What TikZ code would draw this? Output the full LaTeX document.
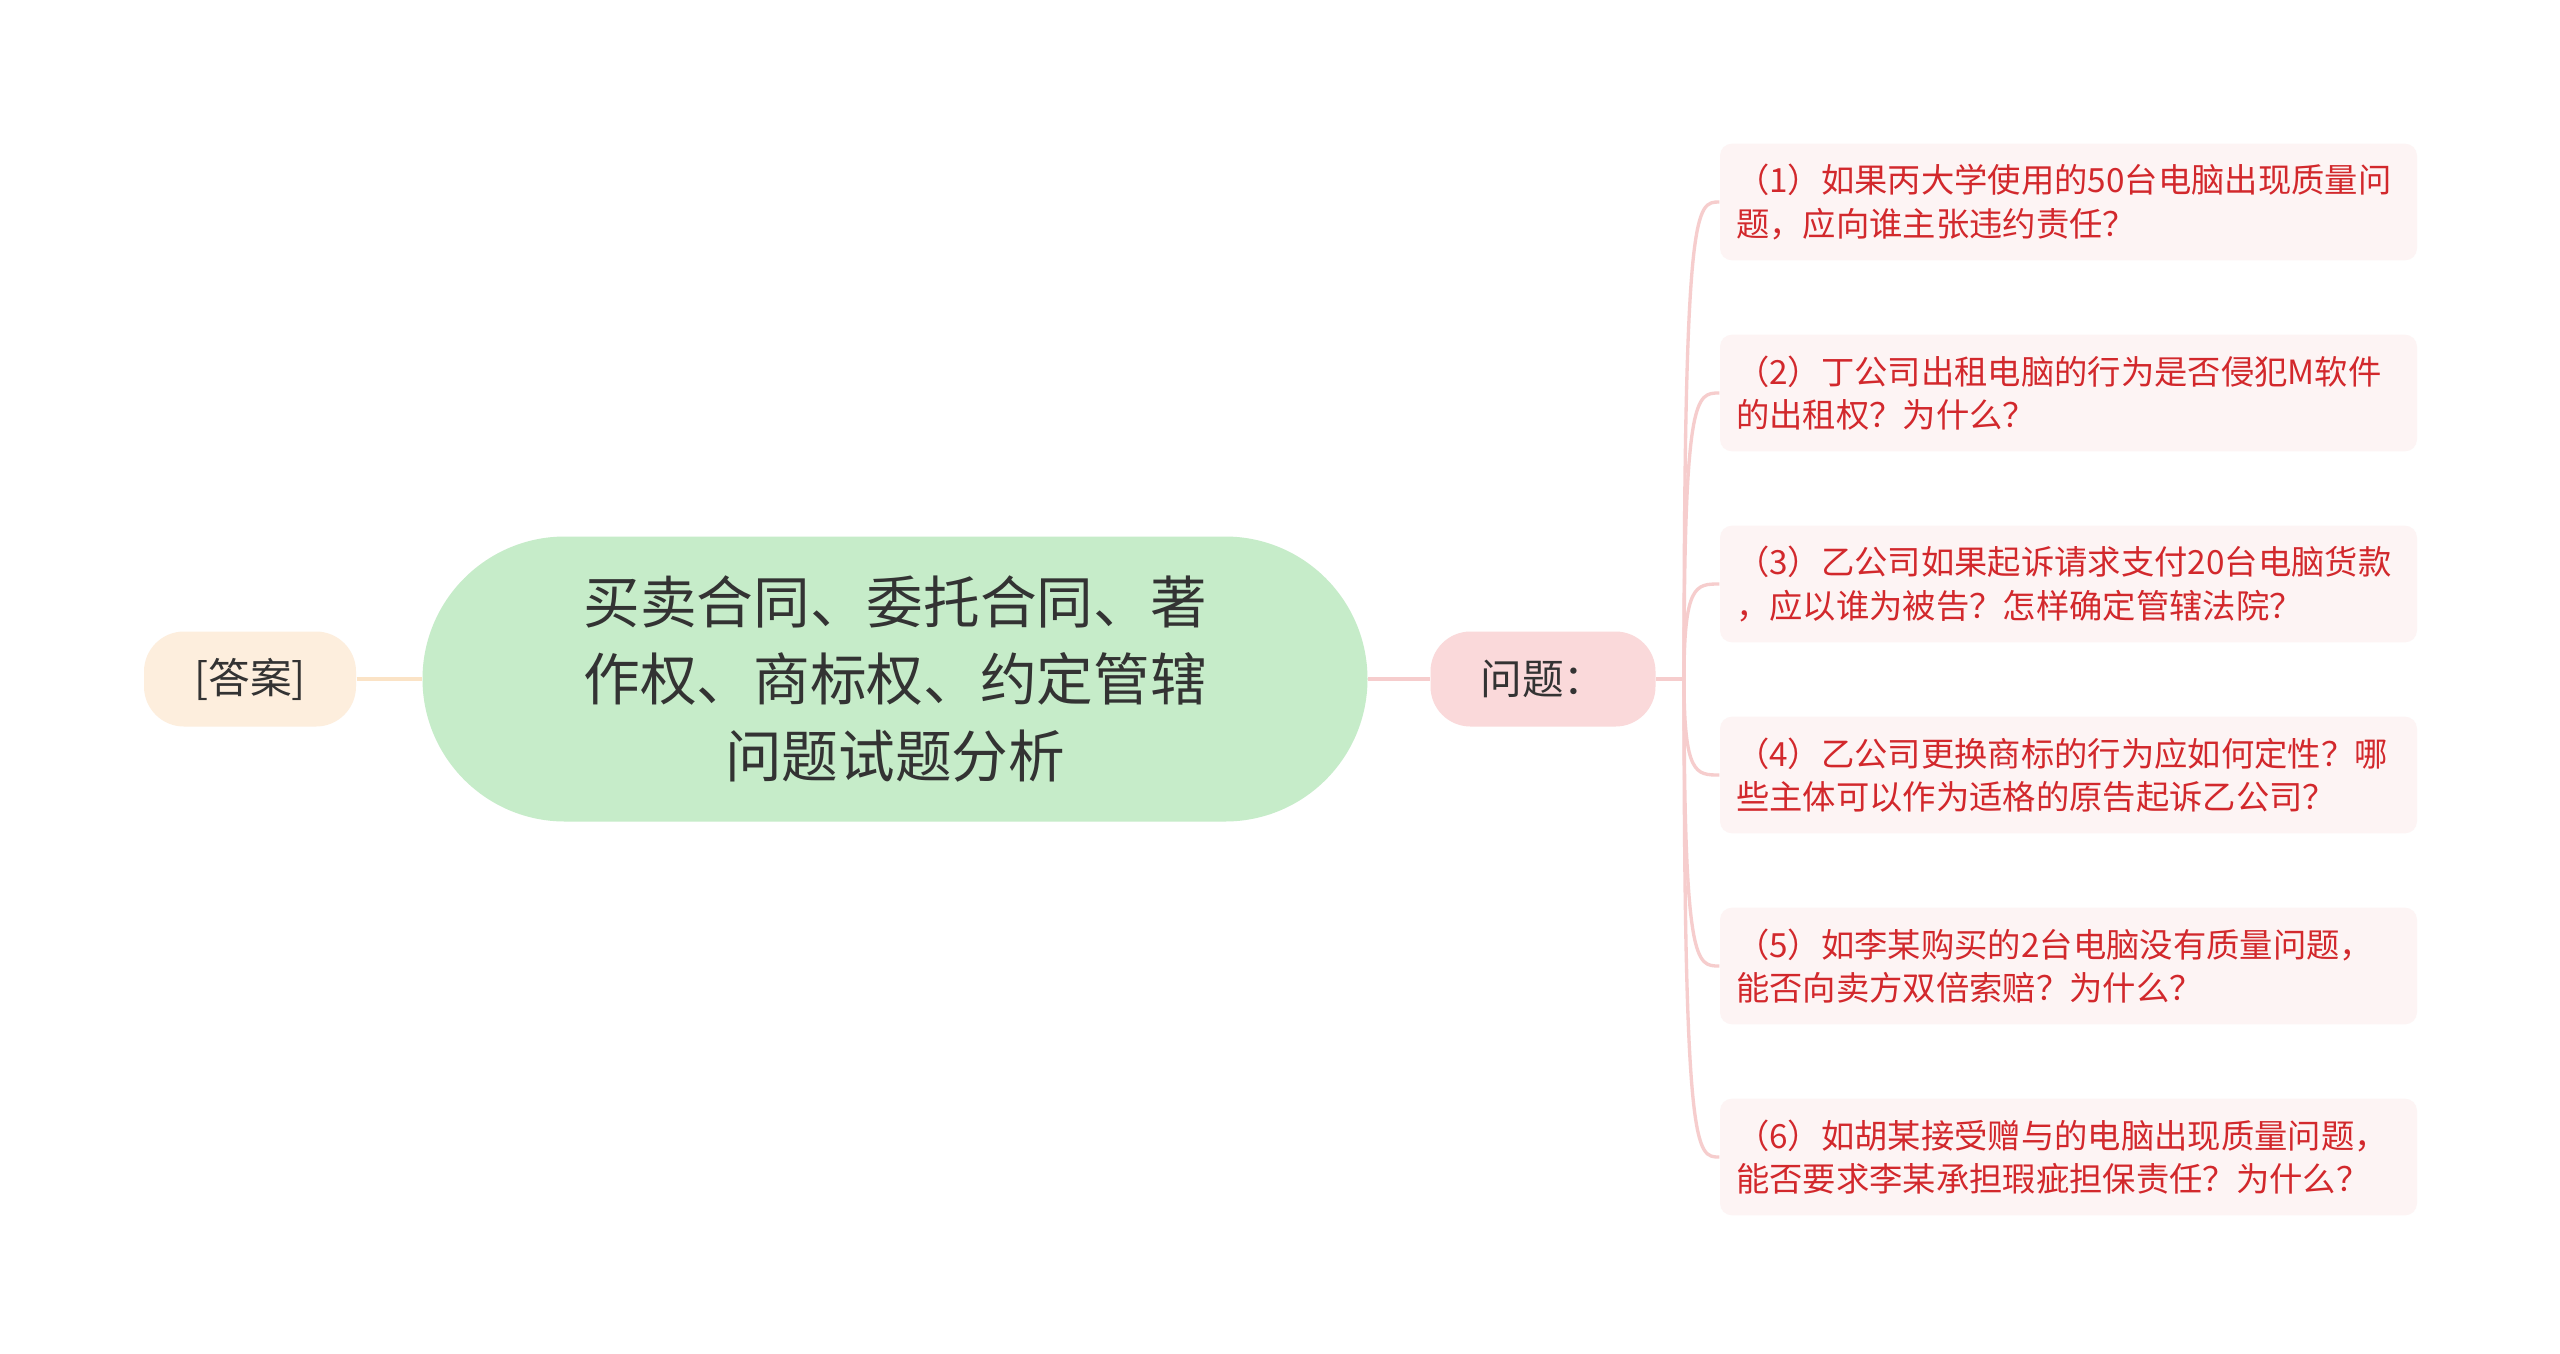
\documentclass[tikz,border=0pt]{standalone}
\usepackage{fontspec}
\setmainfont{Noto Sans CJK SC}
\usetikzlibrary{shapes.misc}
\definecolor{rootgreen}{HTML}{C6ECC9}
\definecolor{ansfill}{HTML}{FDEEDD}
\definecolor{qfill}{HTML}{FAD9DA}
\definecolor{leaffill}{HTML}{FDF4F4}
\definecolor{pinkline}{HTML}{F6CDCD}
\definecolor{peachline}{HTML}{FBE3C6}
\definecolor{leafred}{HTML}{D2282C}
\definecolor{darktext}{HTML}{333333}
\begin{document}
\begin{tikzpicture}[x=0.3pt,y=-0.3pt,
  rootnode/.style={rounded rectangle, fill=rootgreen, draw=none, text=darktext,
    minimum width=283.5pt, minimum height=85.5pt, align=center,
    font=\fontsize{17}{23}\selectfont, inner sep=0pt},
  ansnode/.style={rectangle, rounded corners=12pt, fill=ansfill, draw=none, text=darktext,
    minimum width=63.6pt, minimum height=28.5pt, font=\fontsize{12.5}{15}\selectfont},
  qnode/.style={rectangle, rounded corners=12pt, fill=qfill, draw=none, text=darktext,
    minimum width=67.5pt, minimum height=28.5pt, font=\fontsize{12.5}{15}\selectfont},
  leafnode/.style={rectangle, rounded corners=3.6pt, fill=leaffill, draw=none, text=leafred,
    minimum width=209.1pt, minimum height=35pt, text width=199.5pt, inner xsep=4.8pt,
    align=left, font=\fontsize{10}{13}\selectfont},
  pline/.style={draw=pinkline, line width=1pt},
  aline/.style={draw=peachline, line width=1pt}
]
\useasboundingbox (0,0) rectangle (2560,1353);
\fill[white] (0,0) rectangle (2560,1353);

\node[ansnode] (ans) at (250,679) {[答案]};
\node[rootnode] (root) at (895,679) {买卖合同、委托合同、著\\作权、商标权、约定管辖\\问题试题分析};
\node[qnode] (q) at (1543,679) {问题：};
\coordinate (tr) at (1684,679);
\coordinate (trb) at (1696,679);

\node[leafnode] (l1) at (2068.5,202) {（1）如果丙大学使用的50台电脑出现质量问\\题，应向谁主张违约责任？};
\node[leafnode] (l2) at (2068.5,393) {（2）丁公司出租电脑的行为是否侵犯M软件\\的出租权？为什么？};
\node[leafnode] (l3) at (2068.5,584) {（3）乙公司如果起诉请求支付20台电脑货款\\，应以谁为被告？怎样确定管辖法院？};
\node[leafnode] (l4) at (2068.5,775) {（4）乙公司更换商标的行为应如何定性？哪\\些主体可以作为适格的原告起诉乙公司？};
\node[leafnode] (l5) at (2068.5,966) {（5）如李某购买的2台电脑没有质量问题，\\能否向卖方双倍索赔？为什么？};
\node[leafnode] (l6) at (2068.5,1157) {（6）如胡某接受赠与的电脑出现质量问题，\\能否要求李某承担瑕疵担保责任？为什么？};

\draw[aline] (ans.east) -- (root.west);
\draw[pline] (root.east) -- (q.west);
\draw[pline] (q.east) -- (tr);
\foreach \i in {1,...,6}{
  \draw[pline] (tr) .. controls (tr |- l\i.west) and (trb |- l\i.west) .. (l\i.west);
}
\end{tikzpicture}
\end{document}
